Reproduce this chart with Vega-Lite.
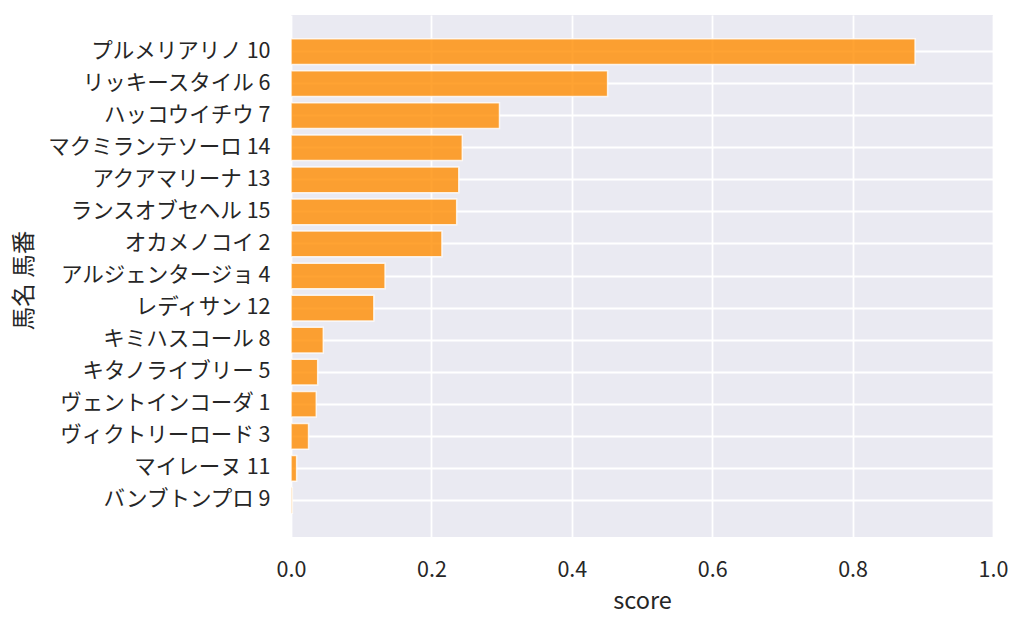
{
  "$schema": "https://vega.github.io/schema/vega-lite/v6.json",
  "autosize": {"type": "none"},
  "padding": {"left": 291, "top": 15, "right": 31, "bottom": 90},
  "width": 702,
  "height": 522,
  "background": "white",
  "data": {
    "values": [
      {"horse": "プルメリアリノ 10", "score": 0.889},
      {"horse": "リッキースタイル 6", "score": 0.451},
      {"horse": "ハッコウイチウ 7", "score": 0.297},
      {"horse": "マクミランテソーロ 14", "score": 0.244},
      {"horse": "アクアマリーナ 13", "score": 0.239},
      {"horse": "ランスオブセヘル 15", "score": 0.236},
      {"horse": "オカメノコイ 2", "score": 0.215},
      {"horse": "アルジェンタージョ 4", "score": 0.134},
      {"horse": "レディサン 12", "score": 0.118},
      {"horse": "キミハスコール 8", "score": 0.046},
      {"horse": "キタノライブリー 5", "score": 0.038},
      {"horse": "ヴェントインコーダ 1", "score": 0.036},
      {"horse": "ヴィクトリーロード 3", "score": 0.025},
      {"horse": "マイレーヌ 11", "score": 0.008},
      {"horse": "バンブトンプロ 9", "score": 0.002}
    ]
  },
  "mark": {
    "type": "bar",
    "fill": "darkorange",
    "fillOpacity": 0.8,
    "stroke": "white",
    "strokeOpacity": 0.8,
    "strokeWidth": 1.5
  },
  "encoding": {
    "y": {
      "field": "horse",
      "type": "nominal",
      "sort": null,
      "title": "馬名 馬番",
      "scale": {"paddingInner": 0.2, "paddingOuter": 0.74},
      "axis": {
        "ticks": false,
        "domain": false,
        "bandPosition": 0.5,
        "labelPadding": 21,
        "labelLimit": 400,
        "titleAngle": -90,
        "titleAlign": "center",
        "titleBaseline": "middle",
        "titleX": -267,
        "titleY": 265
      }
    },
    "x": {
      "field": "score",
      "type": "quantitative",
      "title": "score",
      "scale": {"domain": [0, 1], "nice": false},
      "axis": {
        "values": [0, 0.2, 0.4, 0.6, 0.8, 1.0],
        "format": ".1f",
        "ticks": false,
        "domain": false,
        "labelFlush": false,
        "labelPadding": 22,
        "titlePadding": 9
      }
    }
  },
  "config": {
    "font": "Noto Sans CJK JP",
    "view": {"fill": "#EAEAF2", "stroke": null},
    "axis": {
      "grid": true,
      "gridColor": "white",
      "gridWidth": 1.8,
      "gridOpacity": 1,
      "labelFont": "Noto Sans CJK JP",
      "labelFontSize": 21.5,
      "labelColor": "#262626",
      "titleFont": "Noto Sans CJK JP",
      "titleFontSize": 23.5,
      "titleFontWeight": "normal",
      "titleColor": "#262626"
    }
  }
}
